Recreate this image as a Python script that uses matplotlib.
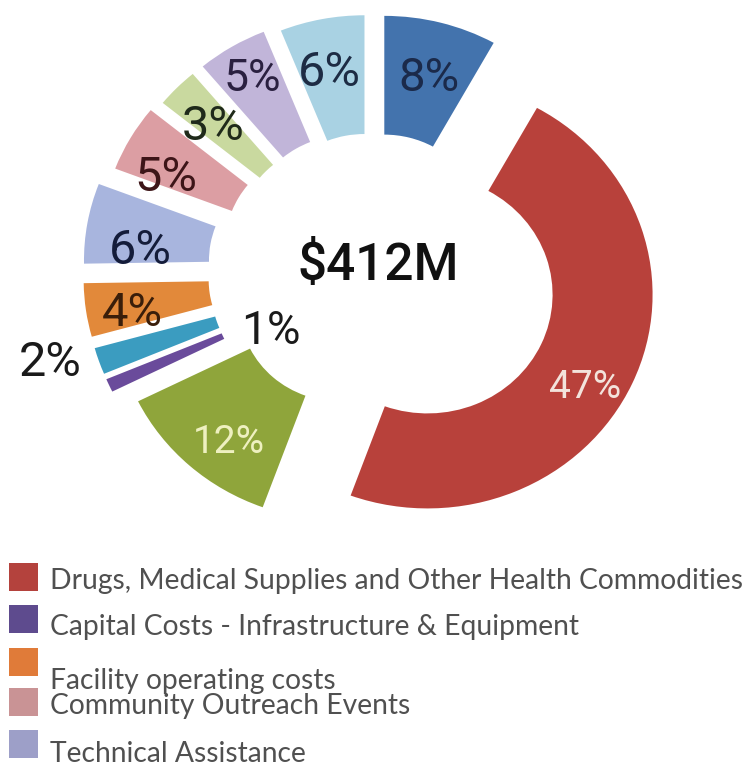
import matplotlib
matplotlib.use('Agg')
import matplotlib.pyplot as plt
from matplotlib.patches import Rectangle
import numpy as np

# budget shares, clockwise from 12 o'clock
shares = [8, 47, 12, 1, 2, 4, 6, 5, 3, 5, 6]
wedge_colors = ['#4373ad', '#b8413b', '#8fa53b', '#6a4b9b', '#3b9cc0', '#e2893a',
                '#a8b5de', '#dc9ea3', '#c9d99f', '#c1b5d9', '#a9d2e3']
total_label = '$412M'

legend_names = ['Drugs, Medical Supplies and Other Health Commodities',
                'Capital Costs - Infrastructure & Equipment',
                'Facility operating costs',
                'Community Outreach Events',
                'Technical Assistance']
legend_colors = ['#b4423d', '#5e4b8e', '#e07b39', '#c99395', '#9d9fc8']

# canvas in pixel units, y squeezed a little
W, H = 751, 766
ky = 0.95
def py(y):
    return (H - y) / ky

# per-wedge style
explode = [45, 60, 50, 65, 65, 65, 65, 55, 50, 50, 45]
lab_shift = [1, 7.3, -4, -16, 3, -3, -6.7, -6.2, -1.5, 0, -1]
lab_dist = [166, 186, 181, 56, 272, 180, 169, 174, 170, 185, 168]
lab_size = [34, 28, 28, 33, 35, 34, 35, 35, 35, 32, 35]
lab_color = ['#1b2a4a', '#f3e3dc', '#eef0c0', '#1a1a1a', '#1a1a1a', '#3a1e0a',
             '#141c3a', '#3d1518', '#1f2a1a', '#2a2040', '#1d2c44']
font = 'Roboto'

fig = plt.figure(figsize=(W / 100, H / 100), dpi=100)
ax = fig.add_axes([0, 0, 1, 1])

wedges, _ = ax.pie(shares, colors=wedge_colors, explode=explode, radius=225,
                   startangle=90, counterclock=False, center=(373, py(271)),
                   wedgeprops=dict(width=125, linewidth=0))
wedges[1].set_width(100)

ax.set_aspect('auto')
ax.set_xlim(0, W)
ax.set_ylim(0, H / ky)
ax.axis('off')

for i, w in enumerate(wedges):
    mid = 0.5 * (w.theta1 + w.theta2) - lab_shift[i]
    cx, cy = w.center
    x = cx + lab_dist[i] * np.cos(np.radians(mid))
    y = cy + lab_dist[i] * np.sin(np.radians(mid))
    ax.text(x, y, '%d%%' % shares[i], ha='center', va='center', family=font,
            fontsize=lab_size[i], color=lab_color[i])

ax.text(378, py(266), total_label, ha='center', va='center', family=font,
        fontsize=37, fontweight='medium', color='#111111')

# legend drawn by hand, rows are unevenly spaced
sq_top = [563, 605, 648, 688, 730]
txt_base = [589, 635, 689, 714, 762]
for i in range(len(legend_names)):
    ax.add_patch(Rectangle((9, py(sq_top[i] + 28)), 29, 28 / ky,
                           facecolor=legend_colors[i], edgecolor='none'))
    ax.text(50, py(txt_base[i]), legend_names[i], ha='left', va='baseline',
            family='Lato', fontsize=20.3, color='#505050')

fig.savefig('out.png', dpi=100, facecolor='white')
